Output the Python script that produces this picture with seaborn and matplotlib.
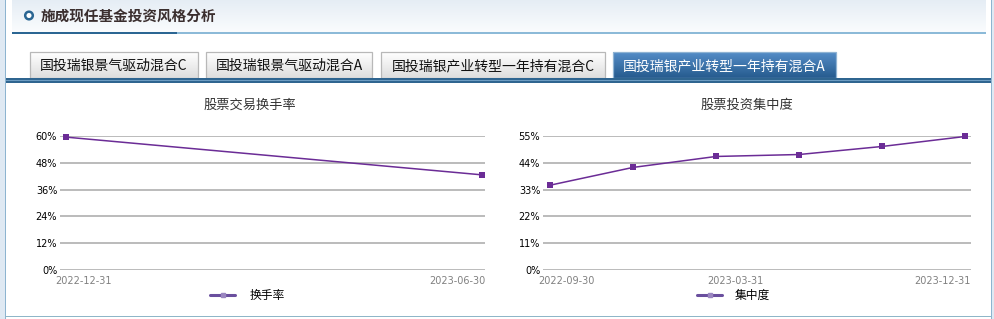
import numpy as np
import pandas as pd
import matplotlib
matplotlib.use("Agg")
import matplotlib.pyplot as plt
from matplotlib.patches import Rectangle, Circle
from matplotlib.lines import Line2D
import matplotlib.transforms as mtrans
import seaborn as sns

# ---------------- data ----------------
turnover_dates = ["2022-12-31", "2023-06-30"]
turnover_values = [59.5, 42.6]

conc_dates = ["2022-09-30", "2022-12-31", "2023-03-31", "2023-06-30", "2023-09-30", "2023-12-31"]
conc_values = [34.8, 42.1, 46.6, 47.4, 50.7, 54.8]
conc_tick_labels = ["2022-09-30", "2023-03-31", "2023-12-31"]
turnover_tick_labels = ["2022-12-31", "2023-06-30"]

turnover_yticks = [0, 12, 24, 36, 48, 60]
conc_yticks = [0, 11, 22, 33, 44, 55]

header_title = "施成现任基金投资风格分析"
tabs = ["国投瑞银景气驱动混合C", "国投瑞银景气驱动混合A",
        "国投瑞银产业转型一年持有混合C", "国投瑞银产业转型一年持有混合A"]
chart_titles = ["股票交易换手率", "股票投资集中度"]
legend_labels = ["换手率", "集中度"]

# ---------------- style ----------------
sns.set_theme(style="white")
plt.rcParams['font.family'] = ['Noto Sans CJK SC', 'DejaVu Sans']

W, H = 994, 319
fig = plt.figure(figsize=(W / 100, H / 100), dpi=100)
fig.patch.set_facecolor("white")

bg = fig.add_axes([0, 0, 1, 1])
bg.set_xlim(0, W)
bg.set_ylim(H, 0)
bg.axis("off")

# outer side strips and borders
bg.add_patch(Rectangle((0, 0), 5, H, color="#dfe9f3", lw=0))
bg.add_patch(Rectangle((5, 0), 1.3, H, color="#8db4d0", lw=0))
bg.add_patch(Rectangle((991, 0), 1.3, H, color="#8db4d0", lw=0))
bg.add_patch(Rectangle((992.3, 0), 2, H, color="#dfe9f3", lw=0))
bg.add_patch(Rectangle((5, 315.5), 987, 1.5, color="#8fb6c8", lw=0))

# header gradient
grad = np.linspace(0, 1, 64).reshape(-1, 1)
c_top = np.array([0.90, 0.93, 0.96])
c_bot = np.array([0.98, 0.988, 0.995])
img = c_top[None, None, :] * (1 - grad[:, :, None]) + c_bot[None, None, :] * grad[:, :, None]
bg.imshow(img, extent=(12, 986, 32, 0), aspect="auto", zorder=0)
bg.add_patch(Rectangle((12, 32), 974, 2.2, color="#8cbad8", lw=0, zorder=2))
bg.add_patch(Rectangle((12, 32), 165, 2.2, color="#2b6693", lw=0, zorder=3))
bg.add_patch(Circle((29, 15.5), 3.8, facecolor="white", edgecolor="#2b6693", lw=1.8, zorder=3))
bg.text(41, 16, header_title, fontsize=10.5, fontweight="bold", color="#3a2e2e",
        va="center", ha="left", zorder=4)

# tabs
tab_x = [(30, 198), (206, 372), (381, 605), (613, 836)]
for i, ((x0, x1), label) in enumerate(zip(tab_x, tabs)):
    active = i == 3
    if active:
        top, bot = np.array([0.33, 0.55, 0.78]), np.array([0.15, 0.36, 0.56])
        edge = "#8fb3d3"
        tc = "white"
    else:
        top, bot = np.array([1.0, 1.0, 1.0]), np.array([0.87, 0.87, 0.87])
        edge = "#b8b8b8"
        tc = "#111111"
    g = np.linspace(0, 1, 32).reshape(-1, 1)
    timg = top[None, None, :] * (1 - g[:, :, None]) + bot[None, None, :] * g[:, :, None]
    bg.imshow(timg, extent=(x0, x1, 78, 52), aspect="auto", zorder=1)
    bg.add_patch(Rectangle((x0, 52), x1 - x0, 26, facecolor="none", edgecolor=edge, lw=0.9, zorder=2))
    bg.text((x0 + x1) / 2, 66, label, fontsize=10, color=tc, ha="center", va="center", zorder=3)

bg.add_patch(Rectangle((6, 78), 985, 4.5, color="#2f6590", lw=0, zorder=3))
bg.add_patch(Rectangle((6, 79.6), 985, 1.0, color="#6d9cc2", lw=0, zorder=4))

# chart titles
bg.text(250, 105, chart_titles[0], fontsize=9.5, color="#333333", ha="center", va="center")
bg.text(747, 105, chart_titles[1], fontsize=9.5, color="#333333", ha="center", va="center")


def px_axes(x0, x1, y0, y1):
    return fig.add_axes([x0 / W, 1 - y1 / H, (x1 - x0) / W, (y1 - y0) / H])


line_color = "#6b2c96"
legend_color = "#6a4f9e"


def draw(ax, dates, values, yticks, ticklabels, tick_frac, xpad, label):
    df = pd.DataFrame({"x": np.arange(len(dates)), "v": values})
    sns.lineplot(data=df, x="x", y="v", ax=ax, color=line_color, lw=1.1,
                 marker="s", markersize=4.2, markeredgewidth=0, label=label,
                 clip_on=False, legend=False)
    ax.set_xlim(xpad[0], len(dates) - 1 + xpad[1])
    ax.set_ylim(yticks[0], yticks[-1])
    ax.set_yticks(yticks)
    ax.set_yticklabels([f"{t}%" for t in yticks], fontsize=7, color="#000000",
                       family="DejaVu Sans")
    ax.yaxis.grid(True, color="#a8a8a8", lw=1.1)
    ax.xaxis.grid(False)
    for s in ax.spines.values():
        s.set_visible(False)
    ax.set_facecolor("none")
    ax.tick_params(axis="y", length=0, pad=2)
    ax.tick_params(axis="x", length=0, pad=4)
    lo, hi = ax.get_xlim()
    pos = [lo + (hi - lo) * f for f in tick_frac]
    ax.set_xticks(pos)
    ax.set_xticklabels(ticklabels, fontsize=7, color="#808080", family="DejaVu Sans")
    aligns = ["left", "center", "right"] if len(pos) == 3 else ["left", "right"]
    for t, a in zip(ax.get_xticklabels(), aligns):
        t.set_horizontalalignment(a)
    labs = ax.get_xticklabels()
    labs[0].set_transform(labs[0].get_transform() +
                          mtrans.ScaledTranslation(-5 / 100, 0, fig.dpi_scale_trans))
    ax.set_xlabel("")
    ax.set_ylabel("")


ax1 = px_axes(60, 485, 136, 270)
draw(ax1, turnover_dates, turnover_values, turnover_yticks, turnover_tick_labels,
     [0.0, 1.0], (-0.0144, 0.0072), legend_labels[0])
ax2 = px_axes(543, 971, 136, 270)
draw(ax2, conc_dates, conc_values, conc_yticks, conc_tick_labels,
     [0.0, 0.449, 1.0], (-0.084, 0.072), legend_labels[1])

# legends
for (lx, tx, lab) in [(210, 250, legend_labels[0]), (697, 735, legend_labels[1])]:
    bg.add_line(Line2D([lx, lx + 25], [295, 295], color=legend_color, lw=2.2))
    bg.add_line(Line2D([lx + 12.5], [295], color="#9a86c0", marker="s", markersize=2.5, lw=0))
    bg.text(tx, 295, lab, fontsize=8.5, color="#000000", ha="left", va="center")

fig.savefig("out.png", dpi=100)
